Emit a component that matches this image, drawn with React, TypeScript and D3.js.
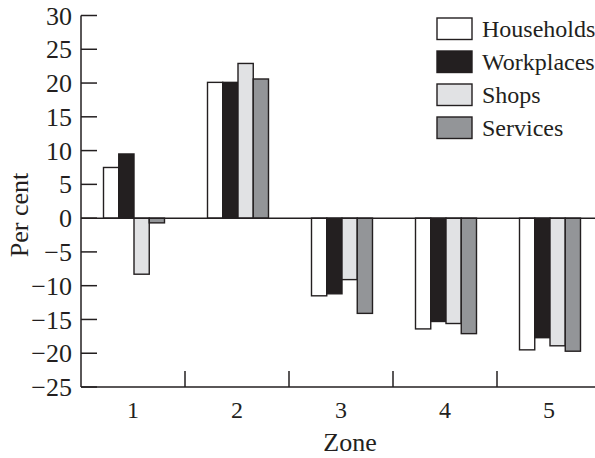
import React from "react";
import * as d3 from "d3";

const zones = ["1", "2", "3", "4", "5"];
const series = ["Households", "Workplaces", "Shops", "Services"];
const households = [7.5, 20.1, -11.5, -16.4, -19.5];
const workplaces = [9.5, 20.1, -11.2, -15.3, -17.7];
const shops = [-8.3, 22.9, -9.1, -15.6, -18.9];
const services = [-0.7, 20.6, -14.1, -17.1, -19.7];
const yTicks = [30, 25, 20, 15, 10, 5, 0, -5, -10, -15, -20, -25];
const fills = ["#ffffff", "#231f20", "#e1e2e4", "#939598"];

const values = [households, workplaces, shops, services];

export default function App() {
  const W = 595;
  const H = 458;
  const left = 81;
  const ink = "#231f20";
  const font = "'Liberation Serif', 'Times New Roman', serif";

  const y = d3.scaleLinear().domain([-25, 30]).range([387, 15.5]);
  const x = d3.scaleBand<string>().domain(zones).range([left, left + 104 * 5]).paddingInner(0).paddingOuter(0);
  const xs = d3.scaleBand<string>().domain(series).range([0, x.bandwidth()]).paddingInner(0).paddingOuter(1.41);
  const fmt = d3.format("");
  const y0 = y(0);
  const yBottom = y(-25);

  return (
    <svg width={W} height={H} style={{ position: "absolute", left: 0, top: 0, background: "#fff" }} fontFamily={font}>
      {/* bars */}
      {series.map((s, si) =>
        zones.map((z, zi) => {
          const v = values[si][zi];
          const bx = (x(z) as number) + (xs(s) as number) + 1;
          return (
            <rect
              key={s + z}
              x={bx}
              y={Math.min(y(v), y0)}
              width={xs.bandwidth()}
              height={Math.abs(y(v) - y0)}
              fill={fills[si]}
              stroke={ink}
              strokeWidth={1.4}
            />
          );
        })
      )}
      {/* zero line */}
      <line x1={left} x2={W} y1={y0} y2={y0} stroke={ink} strokeWidth={1.5} />
      {/* y axis */}
      <line x1={left} x2={left} y1={y(30)} y2={yBottom} stroke={ink} strokeWidth={1.5} />
      {yTicks.map((t) => (
        <g key={t}>
          <line x1={left} x2={left + 16} y1={y(t)} y2={y(t)} stroke={ink} strokeWidth={1.5} />
          <text x={left - 9} y={y(t)} dy="0.35em" textAnchor="end" fontSize={26} fill={ink}>
            {fmt(t).replace("-", "\u2212")}
          </text>
        </g>
      ))}
      {/* x axis */}
      <line x1={left} x2={W} y1={yBottom} y2={yBottom} stroke={ink} strokeWidth={1.5} />
      {zones.map((z) => (
        <g key={z}>
          <line
            x1={(x(z) as number) + x.bandwidth()}
            x2={(x(z) as number) + x.bandwidth()}
            y1={yBottom}
            y2={yBottom - 16}
            stroke={ink}
            strokeWidth={1.5}
          />
          <text x={(x(z) as number) + x.bandwidth() / 2} y={418} textAnchor="middle" fontSize={24} fill={ink}>
            {z}
          </text>
        </g>
      ))}
      <text x={350} y={451} textAnchor="middle" fontSize={26} fill={ink}>
        Zone
      </text>
      <text transform={`translate(28,215) rotate(-90)`} textAnchor="middle" fontSize={26} fill={ink}>
        Per cent
      </text>
      {/* legend */}
      {series.map((s, i) => (
        <g key={s} transform={`translate(437,${18 + i * 33})`}>
          <rect x={0} y={0} width={35} height={21.5} fill={fills[i]} stroke={ink} strokeWidth={1.4} />
          <text x={45} y={19} fontSize={24} fill={ink}>
            {s}
          </text>
        </g>
      ))}
    </svg>
  );
}
